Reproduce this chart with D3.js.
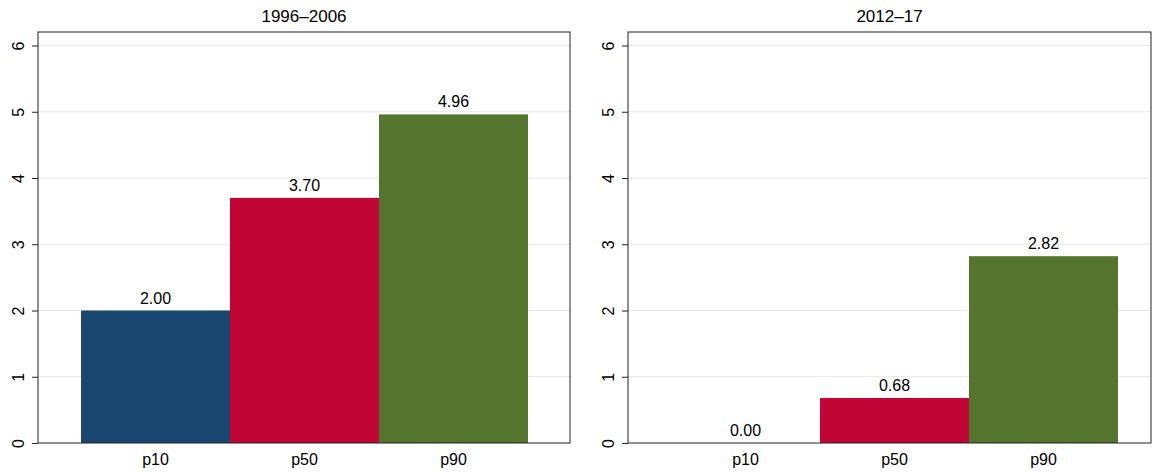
<!DOCTYPE html><html><head><script src="https://cdn.jsdelivr.net/npm/d3@7"></script>
<style>body{margin:0;background:#fff}text{font-family:"Liberation Sans",Arial,sans-serif}</style></head><body>
<svg id="c" width="1156" height="472"></svg>
<script>
const categories=["p10","p50","p90"];
const titles=["1996\u20132006","2012\u201317"];
const values1=[2.00,3.70,4.96];
const values2=[0.00,0.68,2.82];
const yTicks=[0,1,2,3,4,5,6];
const colors=["#1a476f","#c10534","#55752f"];
const svg=d3.select("#c");
const panels=[{t:titles[0],v:values1,x0:38,x1:570},{t:titles[1],v:values2,x0:628,x1:1151}];
const y=d3.scaleLinear().domain([0,6]).range([443,45.5]);
panels.forEach(p=>{
  const g=svg.append("g");
  const x=d3.scaleBand().domain(categories).range([p.x0+43,p.x0+43+447]).padding(0);
  g.selectAll(".gl").data(yTicks.slice(1)).join("line").attr("x1",p.x0).attr("x2",p.x1)
    .attr("y1",d=>y(d)).attr("y2",d=>y(d)).attr("stroke","#e6e6e6");
  g.selectAll("rect").data(p.v).join("rect").attr("x",(d,i)=>x(categories[i])).attr("width",x.bandwidth())
    .attr("y",d=>y(d)).attr("height",d=>y(0)-y(d)).attr("fill",(d,i)=>colors[i]);
  g.selectAll(".lb").data(p.v).join("text").attr("x",(d,i)=>x(categories[i])+x.bandwidth()/2)
    .attr("y",d=>y(d)-7).attr("text-anchor","middle").attr("font-size",16).text(d=>d.toFixed(2));
  g.append("rect").attr("x",p.x0).attr("y",32).attr("width",p.x1-p.x0).attr("height",443-32)
    .attr("fill","none").attr("stroke","#222").attr("stroke-width",1);
  const ya=g.append("g").attr("transform",`translate(${p.x0},0)`).call(d3.axisLeft(y).tickValues(yTicks).tickSize(6).tickFormat(d3.format("d")));
  ya.select(".domain").remove();
  ya.selectAll("line").attr("stroke","#222");
  ya.selectAll("text").attr("font-size",16).attr("fill","#000").attr("font-family","Liberation Sans, Arial, sans-serif")
    .attr("x",0).attr("y",0).attr("dy","0.35em").attr("text-anchor","middle")
    .attr("transform","translate(-20,0) rotate(-90)");
  g.selectAll(".xl").data(categories).join("text").attr("x",d=>x(d)+x.bandwidth()/2).attr("y",465)
    .attr("text-anchor","middle").attr("font-size",16).text(d=>d);
  g.append("text").attr("x",(p.x0+p.x1)/2).attr("y",22).attr("text-anchor","middle").attr("font-size",17).text(p.t);
});
</script></body></html>
